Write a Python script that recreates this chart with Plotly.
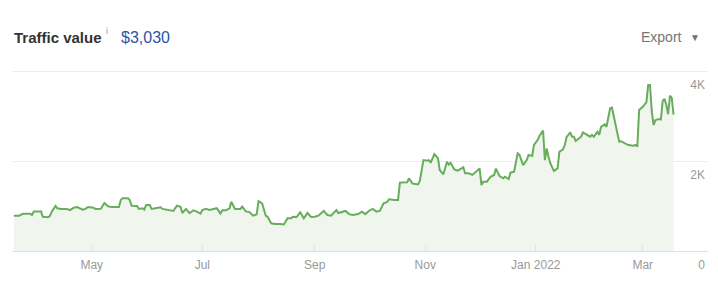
import pandas as pd
import plotly.graph_objects as go

start_date = "2021-03-18"
day_offsets = [1, 4, 6, 10, 11, 12, 15, 16, 17, 20, 21, 22, 24, 25, 27, 30, 32, 34, 36, 39,
               40, 42, 45, 46, 49, 51, 53, 55, 59, 60, 61, 64, 65, 66, 69, 70, 72, 73, 74, 76,
               77, 80, 82, 83, 86, 89, 91, 93, 94, 96, 98, 100, 102, 104, 105, 107, 109, 112, 113, 115,
               116, 118, 120, 121, 123, 126, 127, 129, 131, 133, 135, 136, 138, 140, 141, 143, 145, 148, 150, 152,
               154, 155, 157, 159, 161, 163, 165, 167, 169, 172, 174, 176, 179, 180, 183, 184, 186, 188, 191, 193,
               195, 197, 199, 201, 203, 205, 207, 208, 211, 213, 214, 216, 218, 219, 221, 224, 225, 227, 229, 230,
               231, 233, 235, 236, 238, 240, 241, 242, 244, 246, 249, 250, 252, 254, 256, 258, 259, 260, 262, 264,
               266, 267, 269, 271, 272, 274, 275, 277, 279, 280, 282, 284, 285, 287, 288, 290, 291, 293, 294, 295,
               296, 297, 299, 301, 302, 304, 305, 306, 307, 308, 309, 310, 311, 313, 314, 315, 317, 319, 320, 321,
               323, 324, 325, 327, 328, 330, 331, 332, 333, 335, 336, 338, 340, 343, 344, 345, 346, 348, 350, 351,
               352, 353, 354, 355, 357, 358, 359, 360, 361, 362, 363, 364, 365]
values = [785, 785, 830, 830, 800, 875, 875, 880, 760, 750, 785, 880, 1000, 950, 935, 935, 910, 960, 975, 920,
          925, 975, 960, 935, 940, 1065, 995, 975, 975, 1130, 1170, 1170, 1130, 1005, 1000, 935, 950, 920, 1020, 1020,
          935, 950, 970, 935, 915, 890, 1005, 980, 845, 935, 840, 905, 875, 830, 910, 935, 910, 935, 950, 830,
          905, 905, 950, 1095, 935, 935, 985, 880, 865, 785, 815, 1110, 1060, 785, 760, 615, 600, 600, 590, 725,
          725, 760, 755, 860, 725, 845, 755, 760, 785, 890, 800, 785, 910, 845, 875, 890, 820, 800, 820, 875,
          820, 895, 935, 875, 895, 1060, 1090, 1150, 1135, 1135, 1520, 1525, 1525, 1615, 1500, 1480, 1555, 2020, 2005, 2020,
          1960, 2155, 2060, 1800, 1705, 1985, 1920, 1960, 1815, 1785, 1860, 1725, 1725, 1690, 1760, 1835, 1465, 1540, 1540, 1650,
          1690, 1830, 1665, 1615, 1650, 1600, 1740, 1760, 2170, 2135, 1910, 2020, 2135, 2110, 2355, 2465, 2555, 2675, 2020, 2280,
          2095, 1950, 1780, 1835, 2205, 2260, 2355, 2540, 2580, 2635, 2540, 2540, 2445, 2500, 2540, 2635, 2580, 2540, 2580, 2540,
          2650, 2580, 2760, 2815, 2760, 3170, 3185, 2985, 2800, 2430, 2440, 2390, 2355, 2340, 2355, 2320, 3135, 3205, 3305, 3690,
          3690, 3095, 2800, 2910, 2930, 2920, 3335, 3380, 3245, 3040, 3450, 3400, 3030]

x_tick_dates = ["2021-05-01", "2021-07-01", "2021-09-01", "2021-11-01", "2022-01-01", "2022-03-01"]
x_tick_labels = ["May", "Jul", "Sep", "Nov", "Jan 2022", "Mar"]
y_tick_vals = [0, 2000, 4000]
y_tick_labels = ["0", "2K", "4K"]
x_range = ["2021-03-18", "2022-04-06"]

dates = pd.Timestamp(start_date) + pd.to_timedelta(day_offsets, unit="D")

FONT = "Liberation Sans, Arial, Helvetica, sans-serif"
W, H = 718, 296
ML, MR, MT, MB = 12, 10, 69, 14
PW, PH = W - ML - MR, H - MT - MB
BASE_PX = 251          # pixel row of value 0
PX_PER_UNIT = 90 / 2000
y_lo = -(H - MB - BASE_PX) / PX_PER_UNIT
y_hi = (BASE_PX - MT) / PX_PER_UNIT

fig = go.Figure()
fig.add_trace(go.Scatter(
    x=dates, y=values, mode="lines",
    line=dict(color="#67ad5b", width=2),
    fill="tozeroy", fillcolor="#f0f6ee",
    hoverinfo="skip", showlegend=False,
))

fig.update_layout(
    width=W, height=H,
    margin=dict(l=ML, r=MR, t=MT, b=MB),
    paper_bgcolor="white", plot_bgcolor="white",
    font=dict(family=FONT, color="#999999", size=12),
    showlegend=False,
    xaxis=dict(
        range=x_range, tickvals=x_tick_dates, ticktext=x_tick_labels,
        anchor="free", position=(H - MB - BASE_PX) / PH,
        showgrid=False, zeroline=False,
        showline=True, linecolor="#e0e0e0", linewidth=1,
        ticks="inside", ticklen=6, tickcolor="#e0e0e0",
        ticklabelstandoff=3,
        tickfont=dict(size=12, color="#999999"),
        fixedrange=True,
    ),
    yaxis=dict(
        range=[y_lo, y_hi], tickvals=y_tick_vals, ticktext=y_tick_labels,
        side="right", ticklabelposition="inside", ticklabelshift=14,
        showgrid=True, gridcolor="#ececec", gridwidth=1,
        zeroline=False, showline=False,
        tickfont=dict(size=12, color="#999999"),
        fixedrange=True,
    ),
)

annotations = [
    dict(text="<b>Traffic value</b>", x=12, y=37, font=dict(size=15, color="#333333")),
    dict(text="i", x=104, y=31, font=dict(size=9, color="#999999")),
    dict(text="$3,030", x=119, y=37, font=dict(size=16, color="#2a55a5")),
    dict(text="Export", x=639, y=37, font=dict(size=14, color="#757575")),
    dict(text="▼", x=688, y=37, font=dict(size=10, color="#757575")),
]
for a in annotations:
    fig.add_annotation(
        text=a["text"], x=(a["x"] - ML) / PW, y=(MT + PH - a["y"]) / PH,
        xref="paper", yref="paper", xanchor="left", yanchor="middle",
        showarrow=False, font=dict(family=FONT, **a["font"]),
    )

fig.write_html("out.html")
